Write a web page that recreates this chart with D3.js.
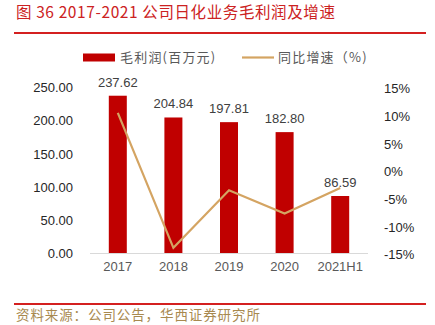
<!DOCTYPE html>
<html><head><meta charset="utf-8">
<script src="https://cdn.jsdelivr.net/npm/d3@7"></script>
<style>body{margin:0;background:#fff}</style>
</head><body>
<svg id="c" width="435" height="325"></svg>
<script>
const categories = ["2017","2018","2019","2020","2021H1"];
const profit = [237.62, 204.84, 197.81, 182.80, 86.59];
const growth = [10.6, -13.8, -3.4, -7.6, -3.0];
const leftTicks = [0,50,100,150,200,250];
const rightTicks = [-15,-10,-5,0,5,10,15];
const titleText = "图 36 2017-2021 公司日化业务毛利润及增速";
const sourceText = "资料来源：公司公告，华西证券研究所";
const legendLabels = ["毛利润(百万元)", "同比增速（%)"];

const svg = d3.select("#c");
const cjk = "'Noto Sans CJK SC', sans-serif";
const num = "'Liberation Sans', Arial, sans-serif";

svg.append("text").attr("x",16).attr("y",18).attr("fill","#cc2222")
  .attr("font-family",cjk).attr("font-size",15.5).attr("letter-spacing",0.6).text(titleText);
svg.append("line").attr("x1",14).attr("x2",426).attr("y1",33).attr("y2",33)
  .attr("stroke","#d42020").attr("stroke-width",2);
svg.append("line").attr("x1",14).attr("x2",426).attr("y1",304).attr("y2",304)
  .attr("stroke","#d42020").attr("stroke-width",2);
svg.append("text").attr("x",16).attr("y",320).attr("fill","#a8894f")
  .attr("font-family",cjk).attr("font-size",13.5).attr("letter-spacing",0.9).text(sourceText);

const x = d3.scaleBand().domain(categories).range([90,368]).paddingInner(0).paddingOuter(0);
const yL = d3.scaleLinear().domain([0,250]).range([253.5,87.5]);
const yR = d3.scaleLinear().domain([-15,15]).range([254.5,88.5]);
const bw = 18;

const la = svg.append("g").attr("transform","translate(73,0)")
  .call(d3.axisLeft(yL).tickValues(leftTicks).tickSize(0).tickPadding(0).tickFormat(d3.format(".2f")));
la.select(".domain").remove();
la.selectAll("text").attr("font-family",num).attr("font-size",13).attr("fill","#262626");

const ra = svg.append("g").attr("transform","translate(384,0)")
  .call(d3.axisRight(yR).tickValues(rightTicks).tickSize(0).tickPadding(0).tickFormat(d=>d+"%"));
ra.select(".domain").remove();
ra.selectAll("text").attr("font-family",num).attr("font-size",13).attr("fill","#262626");

svg.append("g").selectAll("rect").data(profit).join("rect")
  .attr("x",(d,i)=>x(categories[i])+x.bandwidth()/2-bw/2)
  .attr("width",bw)
  .attr("y",d=>yL(d)).attr("height",d=>yL(0)-yL(d))
  .attr("fill","#c00000");

svg.append("line").attr("x1",90).attr("x2",368).attr("y1",253.5).attr("y2",253.5)
  .attr("stroke","#d9d9d9").attr("stroke-width",1);

const xa = svg.append("g").attr("transform","translate(0,262)")
  .call(d3.axisBottom(x).tickSize(0).tickPadding(0));
xa.select(".domain").remove();
xa.selectAll("text").attr("font-family",num).attr("font-size",13).attr("fill","#595959").attr("dy","0.71em");

const line = d3.line().x((d,i)=>x(categories[i])+x.bandwidth()/2).y(d=>yR(d));
svg.append("path").datum(growth).attr("d",line).attr("fill","none")
  .attr("stroke","#d4a462").attr("stroke-width",2.2).attr("stroke-linejoin","miter");

svg.append("g").selectAll("text").data(profit).join("text")
  .attr("x",(d,i)=>x(categories[i])+x.bandwidth()/2)
  .attr("y",d=>yL(d)-9).attr("text-anchor","middle")
  .attr("font-family",num).attr("font-size",13).attr("fill","#404040")
  .text(d=>d.toFixed(2));

svg.append("rect").attr("x",83).attr("y",53.5).attr("width",32).attr("height",8).attr("fill","#c00000");
svg.append("text").attr("x",120).attr("y",62).attr("font-family",cjk).attr("font-size",13)
  .attr("letter-spacing",1.2).attr("fill","#595959").text(legendLabels[0]);
svg.append("line").attr("x1",242).attr("x2",274).attr("y1",57.5).attr("y2",57.5)
  .attr("stroke","#d4a462").attr("stroke-width",2.2);
svg.append("text").attr("x",278).attr("y",62).attr("font-family",cjk).attr("font-size",13)
  .attr("letter-spacing",1.2).attr("fill","#595959").text(legendLabels[1]);
</script>
</body></html>
